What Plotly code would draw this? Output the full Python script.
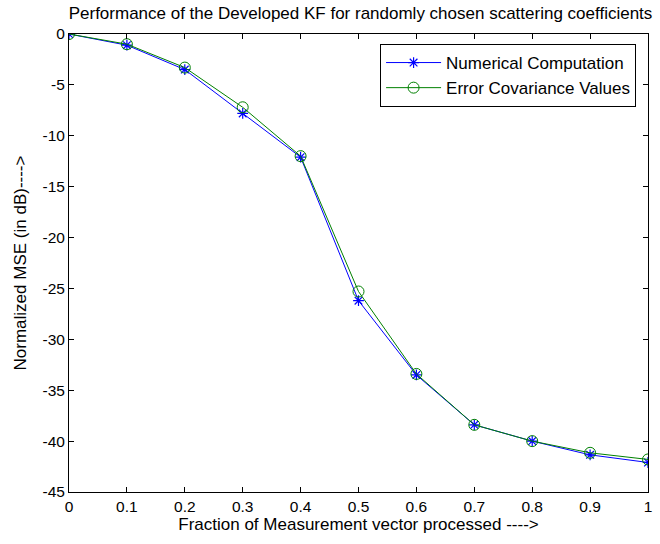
import plotly.graph_objects as go

x_vals = [0, 0.1, 0.2, 0.3, 0.4, 0.5, 0.6, 0.7, 0.8, 0.9, 1.0]
numerical = [0, -1.1, -3.5, -7.8, -12.1, -26.2, -33.5, -38.4, -40.0, -41.35, -42.1]
error_cov = [0, -1.0, -3.3, -7.2, -12.0, -25.3, -33.4, -38.4, -40.0, -41.15, -41.8]

x_ticks = [0, 0.1, 0.2, 0.3, 0.4, 0.5, 0.6, 0.7, 0.8, 0.9, 1]
x_tick_text = ["0", "0.1", "0.2", "0.3", "0.4", "0.5", "0.6", "0.7", "0.8", "0.9", "1"]
y_ticks = [0, -5, -10, -15, -20, -25, -30, -35, -40, -45]
y_tick_text = ["0", "-5", "-10", "-15", "-20", "-25", "-30", "-35", "-40", "-45"]

fig = go.Figure()
fig.add_trace(go.Scatter(
    x=x_vals, y=numerical, mode="lines+markers", name="Numerical Computation",
    line=dict(color="#0000ff", width=1),
    marker=dict(symbol="asterisk-open", size=9, color="#0000ff", line=dict(color="#0000ff", width=1.2)),
))
fig.add_trace(go.Scatter(
    x=x_vals, y=error_cov, mode="lines+markers", name="Error Covariance Values",
    line=dict(color="#008000", width=1),
    marker=dict(symbol="circle-open", size=11, color="#008000", line=dict(color="#008000", width=1)),
))

font = "Liberation Sans, Arial, sans-serif"
axis_common = dict(
    showgrid=False, zeroline=False, showline=True, linecolor="black", linewidth=1,
    mirror="allticks", ticks="inside", ticklen=5, tickcolor="black",
    tickfont=dict(family=font, size=15.5, color="black"),
)
fig.update_layout(
    width=660, height=544,
    margin=dict(l=69, r=8, t=34, b=52),
    paper_bgcolor="white", plot_bgcolor="white",
    title=dict(text="Performance of the Developed KF for randomly chosen scattering coefficients",
               x=(69 + 583 / 2) / 660, xanchor="center", y=1 - 13 / 544, yanchor="middle",
               font=dict(family=font, size=17, color="black")),
    xaxis=dict(range=[0, 1], tickvals=x_ticks, ticktext=x_tick_text,
               title=dict(text="Fraction of Measurement vector processed ---->", standoff=3,
                          font=dict(family=font, size=17, color="black")),
               **axis_common),
    yaxis=dict(range=[-45, 0], tickvals=y_ticks, ticktext=y_tick_text,
               title=dict(text="Normalized MSE (in dB)---->", standoff=11,
                          font=dict(family=font, size=17, color="black")),
               **axis_common),
    legend=dict(x=(640 - 69) / 583, y=1 - 10 / 458, xanchor="right", yanchor="top",
                bordercolor="black", borderwidth=1, bgcolor="white",
                font=dict(family=font, size=17, color="black"),
                itemwidth=55, tracegroupgap=0),
    showlegend=True,
)
fig.write_html("out.html")
